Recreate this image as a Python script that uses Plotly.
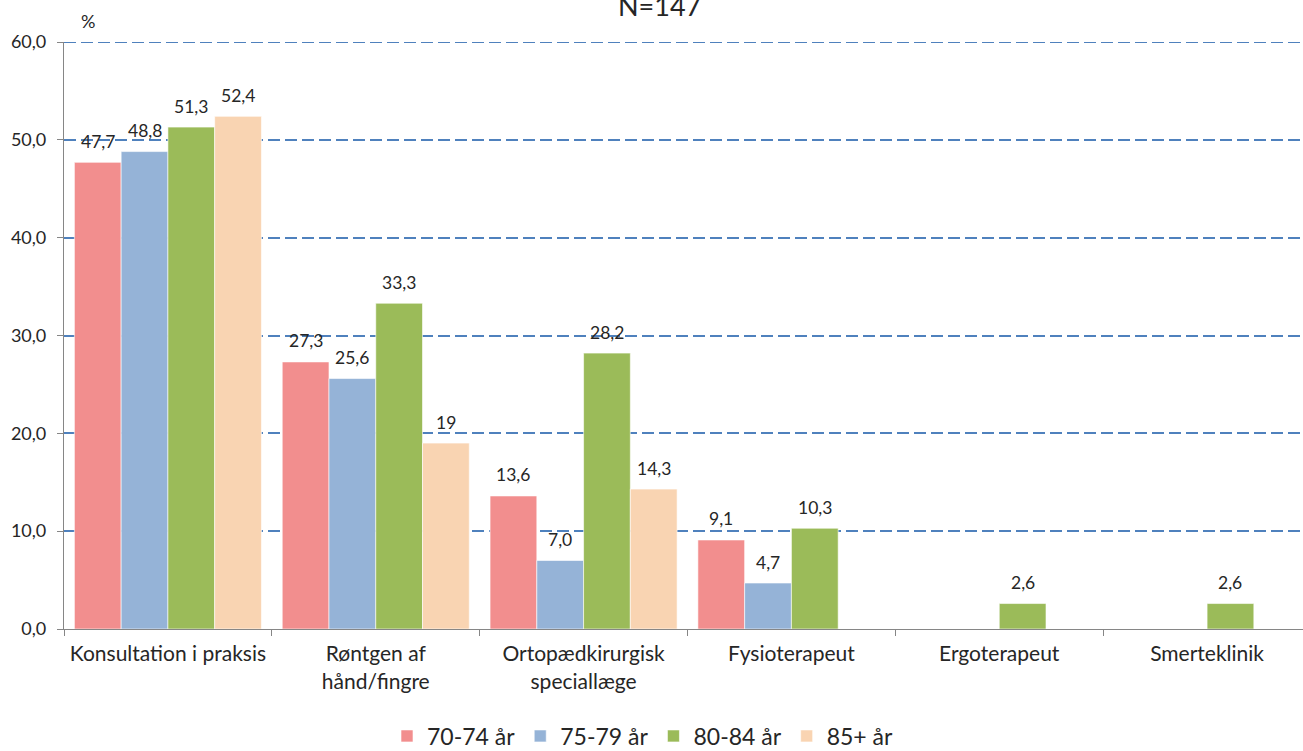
import plotly.graph_objects as go

# Kontakter til sundhedsvæsenet fordelt på aldersgruppe
categories = [
    "Konsultation i praksis",
    "Røntgen af<br>hånd/fingre",
    "Ortopædkirurgisk<br>speciallæge",
    "Fysioterapeut",
    "Ergoterapeut",
    "Smerteklinik",
]
series_names = ["70-74 år", "75-79 år", "80-84 år", "85+ år"]
values_70_74 = [47.7, 27.3, 13.6, 9.1, None, None]
values_75_79 = [48.8, 25.6, 7.0, 4.7, None, None]
values_80_84 = [51.3, 33.3, 28.2, 10.3, 2.6, 2.6]
values_85_plus = [52.4, 19.0, 14.3, None, None, None]
label_85_plus = ["52,4", "19", "14,3", "", "", ""]
y_ticks = [0, 10, 20, 30, 40, 50, 60]

colors = ["#F28E8E", "#95B3D7", "#9BBB59", "#F9D4B2"]
all_values = [values_70_74, values_75_79, values_80_84, values_85_plus]


def fmt(v):
    return "" if v is None else f"{v:.1f}".replace(".", ",")


all_labels = [
    [fmt(v) for v in values_70_74],
    [fmt(v) for v in values_75_79],
    [fmt(v) for v in values_80_84],
    label_85_plus,
]

FONT = "Lato, 'Open Sans', sans-serif"
TEXT_COLOR = "#262626"
GRID_COLOR = "#4F81BD"
BARGAP = 0.1

fig = go.Figure()
for name, vals, col in zip(series_names, all_values, colors):
    fig.add_trace(go.Bar(
        name=name,
        x=categories,
        y=vals,
        marker=dict(color=col, line=dict(width=0.6, color="white")),
        hoverinfo="name+y",
    ))

# Data labels above every bar (category positions are 0..5 on the axis)
n = len(series_names)
bar_w = (1 - BARGAP) / n
for s, (vals, labels) in enumerate(zip(all_values, all_labels)):
    for i, (v, lab) in enumerate(zip(vals, labels)):
        if v is None:
            continue
        fig.add_annotation(
            x=i + (s - (n - 1) / 2) * bar_w, y=v, text=lab,
            showarrow=False, yanchor="middle", yshift=21,
            font=dict(family=FONT, size=17.5, color=TEXT_COLOR),
        )

# Top gridline sits on the plot edge, so draw it explicitly
fig.add_hline(y=y_ticks[-1], line=dict(color=GRID_COLOR, width=1.8, dash="12px,5px"),
              layer="below")

# Title and unit label
fig.add_annotation(
    xref="paper", yref="paper", x=(659 - 64) / 1239, y=1 + (42 - 5) / 587,
    text="N=147", showarrow=False, xanchor="center", yanchor="middle",
    font=dict(family=FONT, size=27, color=TEXT_COLOR),
)
fig.add_annotation(
    xref="paper", yref="paper", x=(88 - 64) / 1239, y=1 + (42 - 21) / 587,
    text="%", showarrow=False, xanchor="center", yanchor="middle",
    font=dict(family=FONT, size=18, color=TEXT_COLOR),
)

fig.update_layout(
    width=1303, height=751,
    margin=dict(l=64, r=0, t=42, b=122, autoexpand=False),
    barmode="group", bargap=BARGAP, bargroupgap=0,
    plot_bgcolor="white", paper_bgcolor="white",
    separators=",.",
    font=dict(family=FONT, color=TEXT_COLOR),
    showlegend=True,
    legend=dict(
        orientation="h", xref="paper", yref="paper",
        x=(643 - 64) / 1239, xanchor="center",
        y=-(736 - 629) / 587, yanchor="middle",
        font=dict(family=FONT, size=23, color=TEXT_COLOR),
        itemwidth=30, traceorder="normal",
    ),
    xaxis=dict(
        type="category",
        range=[-0.5, 5.5 - 8 / 208],
        showgrid=False, zeroline=False,
        showline=True, linecolor="#868686", linewidth=1.2,
        ticks="outside", ticklen=6, tickcolor="#868686",
        tickson="boundaries",
        tickfont=dict(family=FONT, size=21, color=TEXT_COLOR),
        ticklabelstandoff=6,
    ),
    yaxis=dict(
        range=[0, 60],
        tickvals=y_ticks,
        tickformat=".1f",
        showgrid=True, gridcolor=GRID_COLOR, gridwidth=1.8, griddash="12px,5px",
        zeroline=False,
        showline=True, linecolor="#868686", linewidth=1.2,
        ticks="outside", ticklen=6, tickcolor="#868686",
        tickfont=dict(family=FONT, size=18, color=TEXT_COLOR),
        ticklabelstandoff=7,
    ),
)

fig.write_html("out.html")
